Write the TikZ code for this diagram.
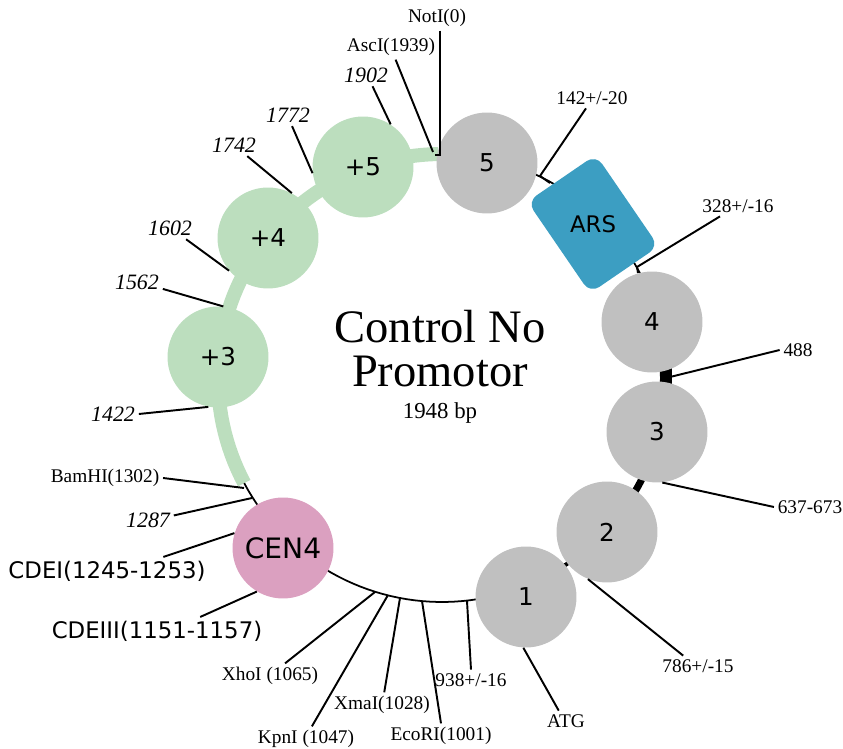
\documentclass[tikz,border=0pt]{standalone}
\usepackage{fontspec}
\setmainfont{Liberation Serif}
\newfontfamily\comicfont{DejaVu Sans}

\definecolor{ringgreen}{RGB}{188,222,190}
\definecolor{ringgray}{RGB}{192,192,192}
\definecolor{cenpink}{RGB}{219,160,192}
\definecolor{arsblue}{RGB}{60,158,194}

\tikzset{
  orf/.style={circle, fill=ringgray, minimum size=2.02cm, inner sep=0pt,
    font=\comicfont\fontsize{14}{14}\selectfont},
  rep/.style={orf, fill=ringgreen},
  arsbox/.style={rectangle, rounded corners=0.22cm, fill=arsblue, inner sep=0pt,
    minimum width=2.22cm, minimum height=1.66cm, font=\comicfont\fontsize{13}{13}\selectfont},
  site/.style={font=\fontsize{11}{11}\selectfont, inner sep=2pt},
  posnum/.style={font=\itshape\fontsize{12.5}{12.5}\selectfont, inner sep=2pt},
  cde/.style={font=\comicfont\fontsize{13}{13}\selectfont, inner sep=2pt},
  tick/.style={line width=1.1pt},
}

\begin{document}
\begin{tikzpicture}[x=0.02cm, y=-0.02cm]
  \useasboundingbox (0,0) rectangle (843,749);

  % Draw backbone (green part and thin part)
  \draw[ringgreen, line width=8pt] plot[domain=91:208, samples=60] ({442+224*cos(\x)}, {378-224*sin(\x)});
  \draw[line width=1pt] plot[domain=-152:90, samples=120] ({442+224*cos(\x)}, {378-224*sin(\x)});

  % Draw spacer bars between the gray blocks
  \draw[line width=6.8pt] plot[domain=-4:4, samples=5] ({442+224*cos(\x)}, {378-224*sin(\x)});
  \draw[line width=4pt] plot[domain=-33:-25, samples=5] ({442+224*cos(\x)}, {378-224*sin(\x)});
  \draw[line width=2.3pt] plot[domain=-60:-52, samples=5] ({442+224*cos(\x)}, {378-224*sin(\x)});

  % Place the blocks
  \node[orf] (c5) at (487,163) {5};
  \node[arsbox, rotate=-55.6] (ars) at (593,224) {\rotatebox{55.6}{ARS}};
  \node[orf] (c4) at (652,322) {4};
  \node[orf] (c3) at (657,432) {3};
  \node[orf] (c2) at (607,532) {2};
  \node[orf] (c1) at (526,597) {1};
  \node[orf, fill=cenpink, font=\comicfont\fontsize{16}{16}\selectfont] (cen) at (283,548) {CEN4};
  \node[rep] (p3) at (218,357) {+3};
  \node[rep] (p4) at (268,238) {+4};
  \node[rep] (p5) at (363,167) {+5};

  % Title
  \node[font=\fontsize{26.5}{25}\selectfont, align=center] (title) at (440,349) {Control No\\Promotor};
  \node[font=\fontsize{13}{13}\selectfont] (size) at (440,413) {1948 bp};

  % Labels
  \node[site] (lNot) at (437,18) {NotI(0)};
  \node[site] (lAsc) at (391,47) {AscI(1939)};
  \node[posnum] (l1902) at (366,75) {1902};
  \node[site] (l142) at (592,98) {142+/-20};
  \node[posnum] (l1772) at (288,115) {1772};
  \node[posnum] (l1742) at (234,145) {1742};
  \node[posnum] (l1602) at (170,228) {1602};
  \node[posnum] (l1562) at (137,282) {1562};
  \node[posnum] (l1422) at (113,414) {1422};
  \node[site] (lBam) at (105,478) {BamHI(1302)};
  \node[posnum] (l1287) at (148,520) {1287};
  \node[cde] (lCDEI) at (107,571) {CDEI(1245-1253)};
  \node[cde] (lCDEIII) at (157,631) {CDEIII(1151-1157)};
  \node[site] (lXho) at (270,676) {XhoI (1065)};
  \node[site] (lKpn) at (306,739) {KpnI (1047)};
  \node[site] (lXma) at (382,705) {XmaI(1028)};
  \node[site] (lEco) at (441,736) {EcoRI(1001)};
  \node[site] (l938) at (471,680) {938+/-16};
  \node[site] (lATG) at (566,721) {ATG};
  \node[site] (l786) at (698,666) {786+/-15};
  \node[site] (l637) at (810,507) {637-673};
  \node[site] (l488) at (798,350) {488};
  \node[site] (l328) at (738,206) {328+/-16};

  % Points on the backbone
  \coordinate (kNot) at (440,155);
  \coordinate (kAsc) at (433,152);
  \coordinate (k142) at (540,176);
  \coordinate (k328) at (637,267);
  \coordinate (k43) at (670,377);
  \coordinate (kBam) at (244,488);
  \coordinate (k1287) at (252,498);
  \coordinate (kXho) at (375,592);
  \coordinate (kKpn) at (388,595);
  \coordinate (kXma) at (400,598);
  \coordinate (kEco) at (422,601);
  \coordinate (k938) at (467,601);

  % Draw label lines
  \draw[tick] (lNot.south -| kNot) -- (kNot) -- ++(-5,0);
  \draw[tick] (lAsc.-70) -- (kAsc);
  \draw[tick] (l1902.-60) -- (p5.57);
  \draw[tick] (l142.-120) -- (k142) -- ++(10,7);
  \draw[tick] (l1772.-70) -- (p5.187);
  \draw[tick] (l1742.-40) -- (p4.62);
  \draw[tick] (l1602.-35) -- (p4.220);
  \draw[tick] (l1562.-15) -- (p3.84);
  \draw[tick] (l1422.east) -- (p3.259);
  \draw[tick] (lBam.east) -- (kBam);
  \draw[tick] (l1287.10) -- (k1287);
  \draw[tick] (lCDEI.14) -- (cen.163);
  \draw[tick] (lCDEIII.18) -- (cen.239);
  \draw[tick] (lXho.40) -- (kXho);
  \draw[tick] (lKpn.65) -- (kKpn);
  \draw[tick] (lXma.80) -- (kXma);
  \draw[tick] (lEco.north) -- (kEco);
  \draw[tick] (l938.north) -- (k938);
  \draw[tick] (lATG.125) -- (c1.267);
  \draw[tick] (l786.145) -- (c2.248);
  \draw[tick] (l637.west) -- (c3.276);
  \draw[tick] (l488.west) -- (k43);
  \draw[tick] (l328.-150) -- (k328) -- ++(1,6);

\end{tikzpicture}
\end{document}
